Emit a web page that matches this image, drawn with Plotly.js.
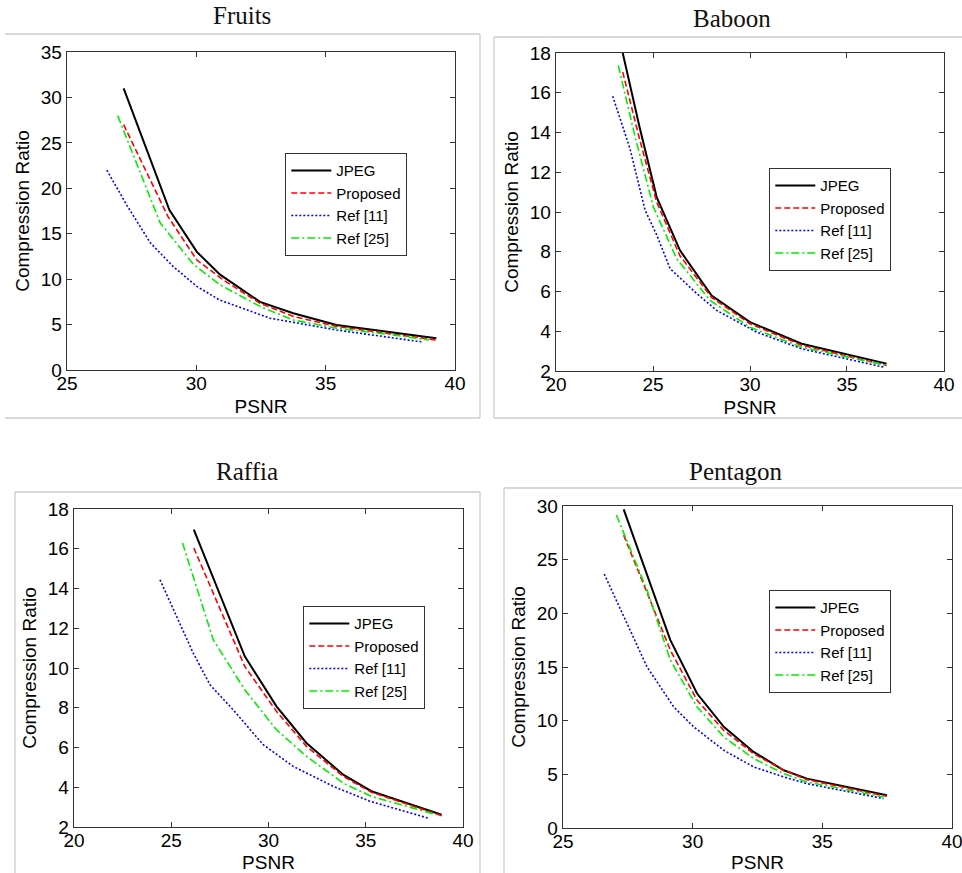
<!DOCTYPE html>
<html>
<head>
<meta charset="utf-8">
<script src="https://cdn.plot.ly/plotly-3.0.1.min.js"></script>
<style>html,body{margin:0;padding:0;background:#fff;}#chart{width:962px;height:873px;}</style>
</head>
<body>
<div id="chart"></div>
<script>
// ---- Data ----
const seriesNames = ["JPEG", "Proposed", "Ref [11]", "Ref [25]"];
const panelTitles = ["Fruits", "Baboon", "Raffia", "Pentagon"];

// Fruits
const fruitsJpegX = [27.19, 28.96, 30.02, 30.92, 32.46, 33.75, 35.42, 37.5, 39.28];
const fruitsJpegY = [31.0, 17.6, 13.0, 10.5, 7.5, 6.25, 4.96, 4.15, 3.5];
const fruitsPropX = [27.19, 28.9, 30.02, 31.05, 32.46, 33.75, 35.42, 37.5, 39.28];
const fruitsPropY = [27.0, 16.9, 12.1, 9.9, 7.35, 5.9, 4.8, 4.0, 3.3];
const fruitsRef11X = [26.54, 27.32, 28.22, 29.1, 30.02, 30.9, 32.85, 35.42, 38.7];
const fruitsRef11Y = [22.0, 18.1, 14.0, 11.4, 9.2, 7.7, 5.7, 4.4, 3.1];
const fruitsRef25X = [26.96, 28.6, 29.9, 30.9, 32.46, 33.75, 35.42, 37.5, 39.0];
const fruitsRef25Y = [28.0, 16.2, 11.6, 9.4, 7.0, 5.5, 4.6, 3.9, 3.3];

// Baboon
const baboonJpegX = [23.44, 24.3, 25.19, 26.39, 28.02, 30.0, 32.66, 37.04];
const baboonJpegY = [18.0, 14.3, 10.75, 8.07, 5.8, 4.46, 3.37, 2.37];
const baboonPropX = [23.44, 24.3, 25.19, 26.39, 28.02, 30.0, 32.66, 37.04];
const baboonPropY = [17.04, 13.7, 10.5, 7.8, 5.7, 4.38, 3.3, 2.28];
const baboonRef11X = [22.92, 23.81, 24.59, 25.19, 25.88, 27.25, 28.28, 30.34, 32.66, 36.87];
const baboonRef11Y = [15.83, 13.2, 10.1, 8.85, 7.15, 5.9, 5.05, 3.96, 3.12, 2.2];
const baboonRef25X = [23.21, 24.1, 25.02, 26.22, 27.94, 30.0, 32.66, 37.04];
const baboonRef25Y = [17.38, 13.7, 10.25, 7.65, 5.55, 4.2, 3.2, 2.28];

// Raffia
const raffiaJpegX = [26.16, 28.78, 30.41, 31.95, 33.84, 35.29, 38.9];
const raffiaJpegY = [16.96, 10.59, 8.07, 6.23, 4.63, 3.8, 2.62];
const raffiaPropX = [26.16, 28.78, 30.41, 31.95, 33.84, 35.29, 38.9];
const raffiaPropY = [16.04, 10.08, 7.82, 6.06, 4.55, 3.75, 2.57];
const raffiaRef11X = [24.42, 26.13, 26.99, 28.18, 29.73, 31.27, 33.32, 35.2, 38.2];
const raffiaRef11Y = [14.44, 10.75, 9.16, 7.9, 6.14, 5.05, 4.05, 3.3, 2.45];
const raffiaRef25X = [25.58, 27.16, 28.78, 30.41, 31.95, 33.84, 35.29, 38.63];
const raffiaRef25Y = [16.29, 11.42, 8.9, 6.89, 5.56, 4.21, 3.54, 2.62];

// Pentagon
const pentJpegX = [27.34, 29.14, 30.17, 31.2, 32.35, 33.51, 34.41, 37.49];
const pentJpegY = [29.69, 17.5, 12.53, 9.42, 7.09, 5.38, 4.6, 3.05];
const pentPropX = [27.34, 29.14, 30.17, 31.2, 32.35, 33.51, 34.41, 37.49];
const pentPropY = [27.29, 16.57, 11.9, 9.1, 6.93, 5.38, 4.5, 2.95];
const pentRef11X = [26.59, 28.24, 29.27, 30.04, 31.2, 32.35, 33.51, 34.41, 37.36];
const pentRef11Y = [23.66, 15.01, 11.28, 9.42, 7.24, 5.69, 4.76, 4.13, 2.74];
const pentRef25X = [27.06, 28.24, 29.14, 30.17, 31.2, 32.35, 33.51, 34.41, 37.36];
const pentRef25Y = [29.16, 22.16, 15.64, 11.28, 8.49, 6.47, 5.07, 4.29, 2.89];

// Axis settings per panel
const xRanges = [[25, 40.0005], [20, 40.0005], [20, 40.0005], [25, 40.0005]];
const yRanges = [[0, 35.0005], [2, 18.0005], [2, 18.0005], [0, 30.0005]];
const yDticks = [5, 2, 2, 5];

// ---- Styling ----
const styles = [
  {color: "#000000", dash: "solid", width: 2},
  {color: "#ff0000", dash: "6px,3px", width: 1.6},
  {color: "#0000ff", dash: "2px,2px", width: 1.6},
  {color: "#00ee00", dash: "8px,3px,2px,3px", width: 1.6}
];

const panelData = [
  [[fruitsJpegX, fruitsJpegY], [fruitsPropX, fruitsPropY], [fruitsRef11X, fruitsRef11Y], [fruitsRef25X, fruitsRef25Y]],
  [[baboonJpegX, baboonJpegY], [baboonPropX, baboonPropY], [baboonRef11X, baboonRef11Y], [baboonRef25X, baboonRef25Y]],
  [[raffiaJpegX, raffiaJpegY], [raffiaPropX, raffiaPropY], [raffiaRef11X, raffiaRef11Y], [raffiaRef25X, raffiaRef25Y]],
  [[pentJpegX, pentJpegY], [pentPropX, pentPropY], [pentRef11X, pentRef11Y], [pentRef25X, pentRef25Y]]
];

const W = 962, H = 873;
// plot areas in pixels [left, right, top, bottom]
const boxes = [
  [67, 455, 52, 370],
  [556, 944, 53, 371],
  [74, 463, 509, 827],
  [563, 952, 506, 828]
];
// legend top-left in pixels
const legendPos = [[285, 153], [769, 168], [303, 606], [769, 590]];
const titlePos = [[242, 15], [732, 18], [247, 472], [736, 472]];

const traces = [];
const layout = {
  width: W, height: H,
  margin: {l: 0, r: 0, t: 0, b: 0},
  paper_bgcolor: "#ffffff",
  plot_bgcolor: "#ffffff",
  font: {family: "Liberation Sans, Arial, sans-serif", color: "#000000", size: 19},
  annotations: [],
  shapes: []
};

const font = "Liberation Sans, Arial, sans-serif";

for (let p = 0; p < 4; p++) {
  const ax = p === 0 ? "" : String(p + 1);
  const lg = p === 0 ? "legend" : "legend" + (p + 1);
  for (let s = 0; s < 4; s++) {
    traces.push({
      x: panelData[p][s][0],
      y: panelData[p][s][1],
      type: "scatter",
      mode: "lines",
      name: seriesNames[s],
      line: {color: styles[s].color, dash: styles[s].dash, width: styles[s].width},
      xaxis: "x" + ax,
      yaxis: "y" + ax,
      legend: lg,
      hoverinfo: "x+y"
    });
  }
  const b = boxes[p];
  const common = {
    showline: true, linecolor: "#333333", linewidth: 1.3, mirror: "ticks",
    ticks: "inside", ticklen: 5, tickcolor: "#333333", tickwidth: 1,
    showgrid: false, zeroline: false, fixedrange: true,
    ticklabeloverflow: "allow",
    tickfont: {family: font, size: 19, color: "#000000"}
  };
  layout["xaxis" + ax] = Object.assign({}, common, {
    domain: [b[0] / W, b[1] / W],
    range: xRanges[p], dtick: 5, tick0: 0,
    anchor: "y" + ax,
    ticklabelstandoff: -4,
    title: {text: "PSNR", font: {family: font, size: 19, color: "#000000"}, standoff: 6}
  });
  layout["yaxis" + ax] = Object.assign({}, common, {
    domain: [1 - b[3] / H, 1 - b[2] / H],
    range: yRanges[p], dtick: yDticks[p], tick0: 0,
    anchor: "x" + ax,
    title: {text: "Compression Ratio", font: {family: font, size: 19, color: "#000000"}, standoff: 6}
  });
  layout[lg] = {
    x: legendPos[p][0] / W, y: 1 - legendPos[p][1] / H,
    xanchor: "left", yanchor: "top",
    bgcolor: "#ffffff", bordercolor: "#333333", borderwidth: 1.3,
    font: {family: font, size: 15, color: "#000000"},
    itemwidth: 40, tracegroupgap: 0
  };
  layout.annotations.push({
    text: panelTitles[p], xref: "paper", yref: "paper",
    x: titlePos[p][0] / W, y: 1 - titlePos[p][1] / H,
    xanchor: "center", yanchor: "middle", showarrow: false,
    font: {family: "Liberation Serif, Times New Roman, serif", size: 25, weight: 400, color: "#111111"}
  });
}

// light grey panel frames
const frameLines = [
  [5, 34, 480, 34], [480, 34, 480, 418], [5, 418, 480, 418],
  [494, 37, 962, 37], [494, 37, 494, 418], [494, 418, 962, 418],
  [15, 492, 480, 492], [15, 492, 15, 873], [480, 492, 480, 873],
  [504, 488, 962, 488], [504, 488, 504, 873]
];
for (const f of frameLines) {
  layout.shapes.push({
    type: "line", xref: "paper", yref: "paper",
    x0: f[0] / W, y0: 1 - f[1] / H, x1: f[2] / W, y1: 1 - f[3] / H,
    line: {color: "#cccccc", width: 1.3}, layer: "below"
  });
}

Plotly.newPlot("chart", traces, layout, {displayModeBar: false, staticPlot: true});
</script>
</body>
</html>
